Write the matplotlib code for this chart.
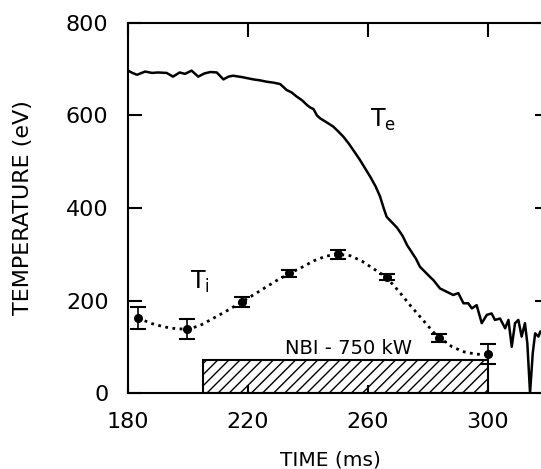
'''
Electron and ion temperature during the NBI pulse
'''

import matplotlib
matplotlib.use('Agg')
import matplotlib.pyplot as plt

# electron temperature trace (ms, eV)
te_t = [180.0, 181.5, 183.0, 185.7, 188.0, 190.0, 192.9, 195.0, 197.2, 199.0,
        201.2, 203.4, 205.5, 207.5, 209.6, 211.8, 213.5, 215.0, 218.0, 221.8,
        224.0, 226.2, 228.5, 230.7, 232.9, 234.5, 236.2, 238.0, 239.6, 240.8,
        241.8, 243.0, 244.0, 246.0, 248.4, 250.0, 251.8, 253.5, 255.1, 257.3,
        259.0, 260.7, 262.5, 264.0, 265.2, 266.2, 267.5, 269.6, 271.5, 273.0,
        274.5, 276.0, 277.3, 279.0, 280.5, 281.8, 284.0, 286.2, 288.4, 290.1,
        291.8, 293.4, 294.6, 296.2, 297.9, 299.6, 301.2, 302.3, 304.0, 305.7,
        306.8, 307.9, 309.0, 310.1, 311.2, 312.3, 313.1, 314.0, 314.9, 315.7,
        316.8, 317.4, 318.3]
te_v = [697, 692, 688, 695, 692, 693, 692, 684, 693, 690,
        697, 684, 691, 694, 693, 678, 684, 686, 683, 678,
        676, 673, 671, 668, 655, 650, 641, 633, 623, 617,
        614, 600, 594, 586, 576, 566, 554, 540, 525, 504,
        486, 468, 447, 425, 400, 381, 372, 358, 340, 320,
        305, 290, 273, 262, 252, 244, 226, 219, 212, 216,
        194, 194, 183, 190, 151, 169, 172, 158, 161, 140,
        158, 100, 151, 158, 122, 151, 107, 0, 86, 129,
        122, 133, 125]

# ion temperature measurements
ti_t = [183.3, 199.7, 218.0, 233.7, 250.0, 266.3, 283.7, 300.0]
ti_v = [162, 138, 197, 259, 300, 251, 119, 84]
ti_err = [23, 21, 10, 8, 10, 7, 8, 22]

# dotted guide curve through the ion points
fit_t = [183.3, 188, 192, 196, 200, 204, 208, 213, 218, 225, 230, 234, 238,
         242, 246, 250, 254, 258, 262, 266, 270, 274, 278, 282, 284, 288,
         292, 296, 300]
fit_v = [162, 150, 143, 139, 138, 146, 160, 178, 197, 225, 245, 259, 272,
         286, 296, 300, 297, 285, 268, 251, 222, 190, 160, 130, 119, 100,
         89, 84, 83]

# neutral beam pulse
nbi_start, nbi_end, nbi_height = 205, 300, 71

xticks = [180, 220, 260, 300]
yticks = [0, 200, 400, 600, 800]

plt.rcParams['hatch.linewidth'] = 1.0

fig = plt.figure(figsize=(5.41, 4.69), dpi=100)
ax = fig.add_axes([0.2366, 0.162, 0.767, 0.789])

ax.plot(te_t, te_v, color='black', lw=1.8)
ax.plot(fit_t, fit_v, color='black', lw=2.0, linestyle=(0, (1, 1.6)))
ax.errorbar(ti_t, ti_v, yerr=ti_err, fmt='o', color='black', ms=5.5,
            elinewidth=1.2, capsize=6, capthick=1.5)

ax.bar(nbi_start, nbi_height, width=nbi_end - nbi_start, align='edge',
       facecolor='white', edgecolor='black', hatch='///', lw=1.5, zorder=1)
ax.text((nbi_start + nbi_end) / 2 + 1, 97, 'NBI - 750 kW',
        ha='center', va='center', fontsize=14)

ax.text(265, 590, r'$\mathregular{T_e}$', ha='center', va='center', fontsize=17)
ax.text(204, 240, r'$\mathregular{T_i}$', ha='center', va='center', fontsize=17)

ax.set_xlim(180, 318.3)
ax.set_ylim(0, 800)
ax.set_xticks(xticks)
ax.set_yticks(yticks)
ax.tick_params(direction='in', top=True, right=True, length=10, width=1.5,
               labelsize=16, pad=14)
for t in ax.yaxis.get_major_ticks():
    t.tick2line.set_markersize(6)
for t in ax.xaxis.get_major_ticks():
    t.tick1line.set_markersize(6)
for s in ax.spines.values():
    s.set_linewidth(1.5)

ax.set_xlabel('TIME (ms)', fontsize=14.5)
ax.set_ylabel('TEMPERATURE (eV)', fontsize=16)
ax.xaxis.set_label_coords(0.489, -0.155)
ax.yaxis.set_label_coords(-0.229, 0.5)

fig.savefig('out.png', dpi=100)
